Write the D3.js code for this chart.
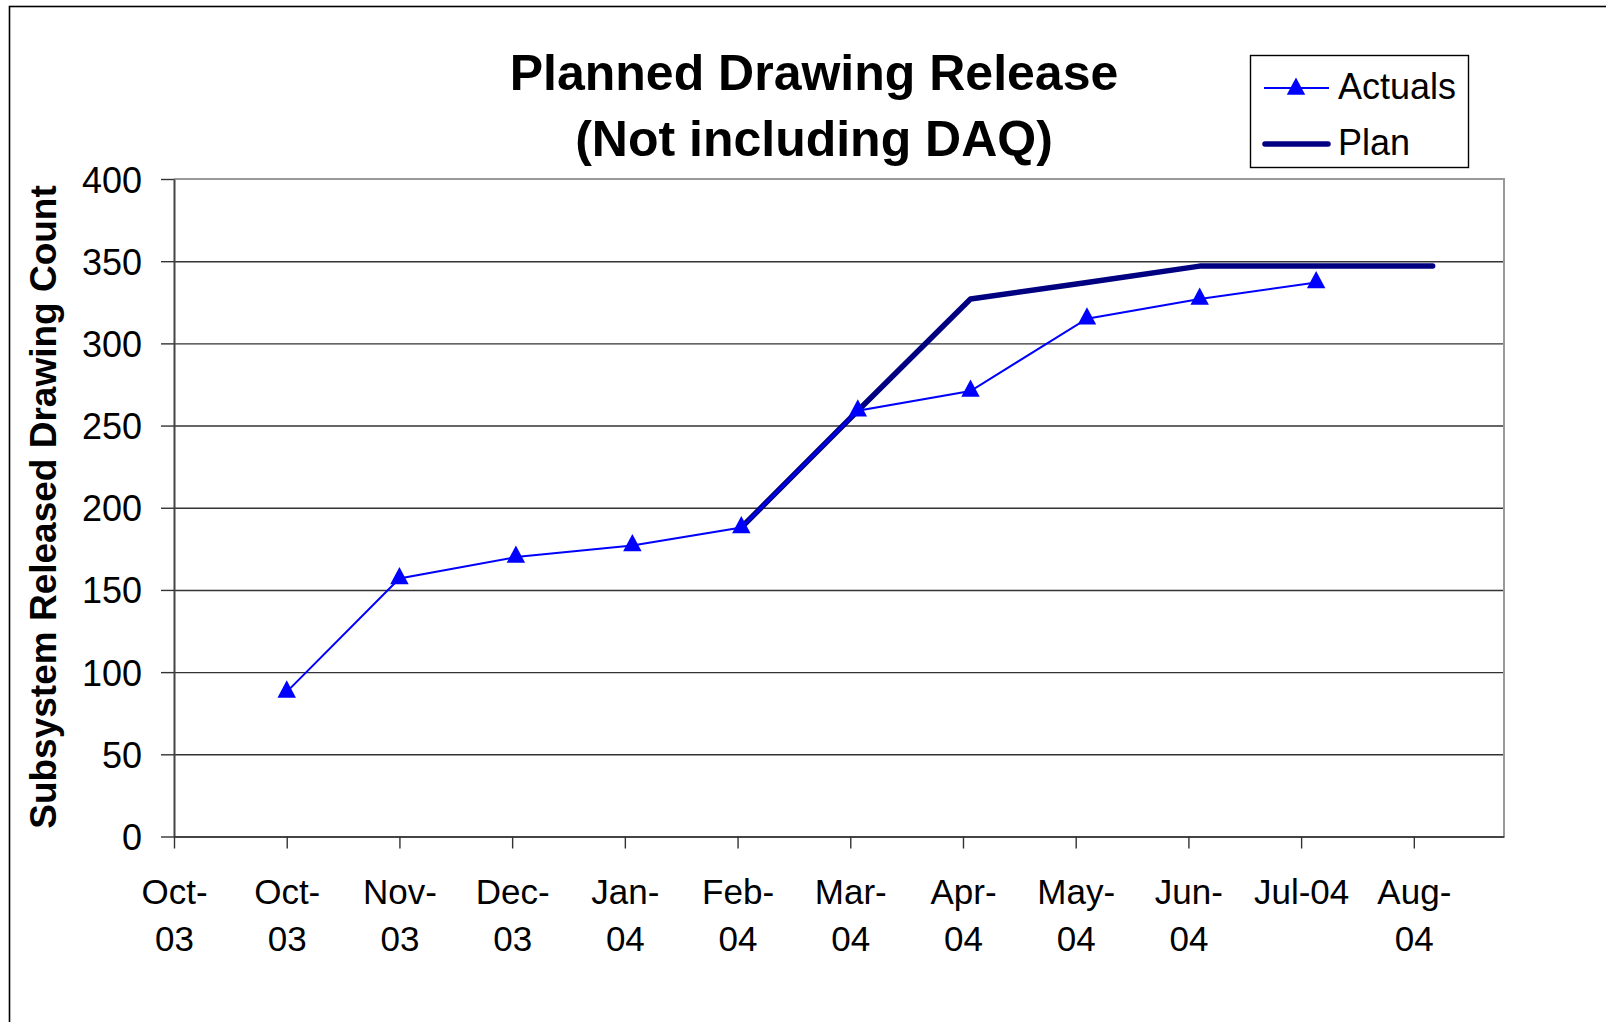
<!DOCTYPE html>
<html>
<head>
<meta charset="utf-8">
<script src="https://cdn.jsdelivr.net/npm/d3@7"></script>
<style>
  html, body { margin: 0; padding: 0; background: #fff; }
  svg { display: block; font-family: "Liberation Sans", Arial, sans-serif; }
</style>
</head>
<body>
<svg id="chart" width="1606" height="1022"></svg>
<script>
// ---- Data ----
const actualDates  = ["2003-10-31","2003-11-30","2003-12-31","2004-01-31","2004-02-29","2004-03-31","2004-04-30","2004-05-31","2004-06-30","2004-07-31"];
const actualValues = [88, 157, 170, 177, 188, 259, 271, 315, 327, 337];
const planDates    = ["2004-02-29","2004-03-31","2004-04-30","2004-05-31","2004-06-30","2004-07-31","2004-08-31"];
const planValues   = [188, 259, 327, 337, 347, 347, 347];
const xTickDates   = ["2003-10-01","2003-10-31","2003-11-30","2003-12-30","2004-01-29","2004-02-28","2004-03-29","2004-04-28","2004-05-28","2004-06-27","2004-07-27","2004-08-26"];
const xTickLabels  = ["Oct-03","Oct-03","Nov-03","Dec-03","Jan-04","Feb-04","Mar-04","Apr-04","May-04","Jun-04","Jul-04","Aug-04"];
const yTickValues  = [0, 50, 100, 150, 200, 250, 300, 350, 400];
const titleLines   = ["Planned Drawing Release", "(Not including DAQ)"];
const yAxisTitle   = "Subsystem Released Drawing Count";
const seriesNames  = ["Actuals", "Plan"];
const xDomain      = ["2003-10-01", "2004-09-19"];

const parse = d3.utcParse("%Y-%m-%d");
const svg = d3.select("#chart");
const FONT = "\"Liberation Sans\", Arial, sans-serif";

const plot = { left: 174, right: 1504, top: 179, bottom: 836.5 };
const x = d3.scaleUtc().domain(xDomain.map(parse)).range([plot.left, plot.right]);
const y = d3.scaleLinear().domain([0, 400]).range([plot.bottom, plot.top]);

// outer frame
svg.append("rect").attr("x", 9.5).attr("y", 6.5).attr("width", 1700).attr("height", 1100)
  .attr("fill", "none").attr("stroke", "#000").attr("stroke-width", 1.6);

// title
const title = svg.append("text").attr("text-anchor", "middle")
  .attr("font-weight", "bold").attr("font-size", 50).attr("fill", "#000");
title.selectAll("tspan").data(titleLines).join("tspan")
  .attr("x", 814).attr("y", (d, i) => 90 + i * 66).text(d => d);

// y axis title
svg.append("text")
  .attr("transform", "translate(56,507) rotate(-90)")
  .attr("text-anchor", "middle").attr("font-weight", "bold").attr("font-size", 37)
  .text(yAxisTitle);

// gridlines
const grid = svg.append("g").attr("transform", `translate(${plot.left},0)`)
  .call(d3.axisLeft(y).tickValues(yTickValues.filter(v => v > 0 && v < 400))
    .tickSize(-(plot.right - plot.left)).tickFormat(""));
grid.select(".domain").remove();
grid.selectAll("line").attr("stroke", "#333").attr("stroke-width", 1.4);

// top & right border
svg.append("path")
  .attr("d", `M${plot.left},${plot.top}H${plot.right}V${plot.bottom}`)
  .attr("fill", "none").attr("stroke", "#999").attr("stroke-width", 2);

// y axis
const yAxis = svg.append("g").attr("transform", `translate(${plot.left},0)`)
  .call(d3.axisLeft(y).tickValues(yTickValues).tickSize(13).tickPadding(19).tickSizeOuter(0));
yAxis.select(".domain").attr("stroke", "#444").attr("stroke-width", 2);
yAxis.selectAll(".tick line").attr("stroke", "#333").attr("stroke-width", 1.4);
yAxis.selectAll(".tick text").attr("font-size", 36).attr("fill", "#000")
  .attr("font-family", FONT).attr("dy", null).attr("y", 13);

// x axis
const tickDateObjs = xTickDates.map(parse);
const xAxis = svg.append("g").attr("transform", `translate(0,${plot.bottom})`)
  .call(d3.axisBottom(x).tickValues(tickDateObjs).tickSize(12).tickSizeOuter(0)
    .tickFormat((d, i) => xTickLabels[i]));
xAxis.select(".domain").attr("stroke", "#444").attr("stroke-width", 2);
xAxis.selectAll(".tick line").attr("stroke", "#333").attr("stroke-width", 1.4);
xAxis.selectAll(".tick text").each(function(d, i) {
  const t = d3.select(this);
  const label = xTickLabels[i];
  t.attr("font-size", 35).attr("fill", "#000").attr("font-family", FONT)
   .attr("dy", null).attr("y", null);
  t.text(null);
  t.append("tspan").attr("x", 0).attr("y", 67.5).text(label);
  const w = this.getComputedTextLength();
  if (w > 100) {
    const parts = label.split("-");
    t.text(null);
    t.append("tspan").attr("x", 0).attr("y", 67.5).text(parts[0] + "-");
    t.append("tspan").attr("x", 0).attr("y", 114.5).text(parts[1]);
  }
});

// series
const actual = actualDates.map((d, i) => ({ date: parse(d), value: actualValues[i] }));
const plan = planDates.map((d, i) => ({ date: parse(d), value: planValues[i] }));
const line = d3.line().x(d => x(d.date)).y(d => y(d.value));

svg.append("path").datum(plan).attr("d", line)
  .attr("fill", "none").attr("stroke", "#000080").attr("stroke-width", 5.5)
  .attr("stroke-linejoin", "round").attr("stroke-linecap", "round");

svg.append("path").datum(actual).attr("d", line)
  .attr("fill", "none").attr("stroke", "#0000ff").attr("stroke-width", 2);

// Excel-style triangle marker
const excelTriangle = {
  draw(ctx, size) {
    const w = Math.sqrt(size) / 2, h = Math.sqrt(size) * 0.94;
    ctx.moveTo(0, -h * 2 / 3);
    ctx.lineTo(w, h / 3);
    ctx.lineTo(-w, h / 3);
    ctx.closePath();
  }
};
const tri = d3.symbol().type(excelTriangle).size(340);
svg.append("g").selectAll("path").data(actual).join("path")
  .attr("transform", d => `translate(${x(d.date)},${y(d.value)})`)
  .attr("d", tri).attr("fill", "#0000ff");

// legend
const lg = svg.append("g");
lg.append("rect").attr("x", 1250.5).attr("y", 55.5).attr("width", 218).attr("height", 112)
  .attr("fill", "#fff").attr("stroke", "#000").attr("stroke-width", 1.4);
lg.append("line").attr("x1", 1264).attr("x2", 1329).attr("y1", 88).attr("y2", 88)
  .attr("stroke", "#0000ff").attr("stroke-width", 2);
lg.append("path").attr("transform", "translate(1296,89)").attr("d", tri).attr("fill", "#0000ff");
lg.append("line").attr("x1", 1265).attr("x2", 1328).attr("y1", 144).attr("y2", 144)
  .attr("stroke", "#000080").attr("stroke-width", 5.5).attr("stroke-linecap", "round");
lg.selectAll("text.leg").data(seriesNames).join("text").attr("class", "leg")
  .attr("x", 1338).attr("y", (d, i) => 99 + i * 56)
  .attr("font-size", 36).attr("fill", "#000").attr("font-family", FONT).text(d => d);
</script>
</body>
</html>
